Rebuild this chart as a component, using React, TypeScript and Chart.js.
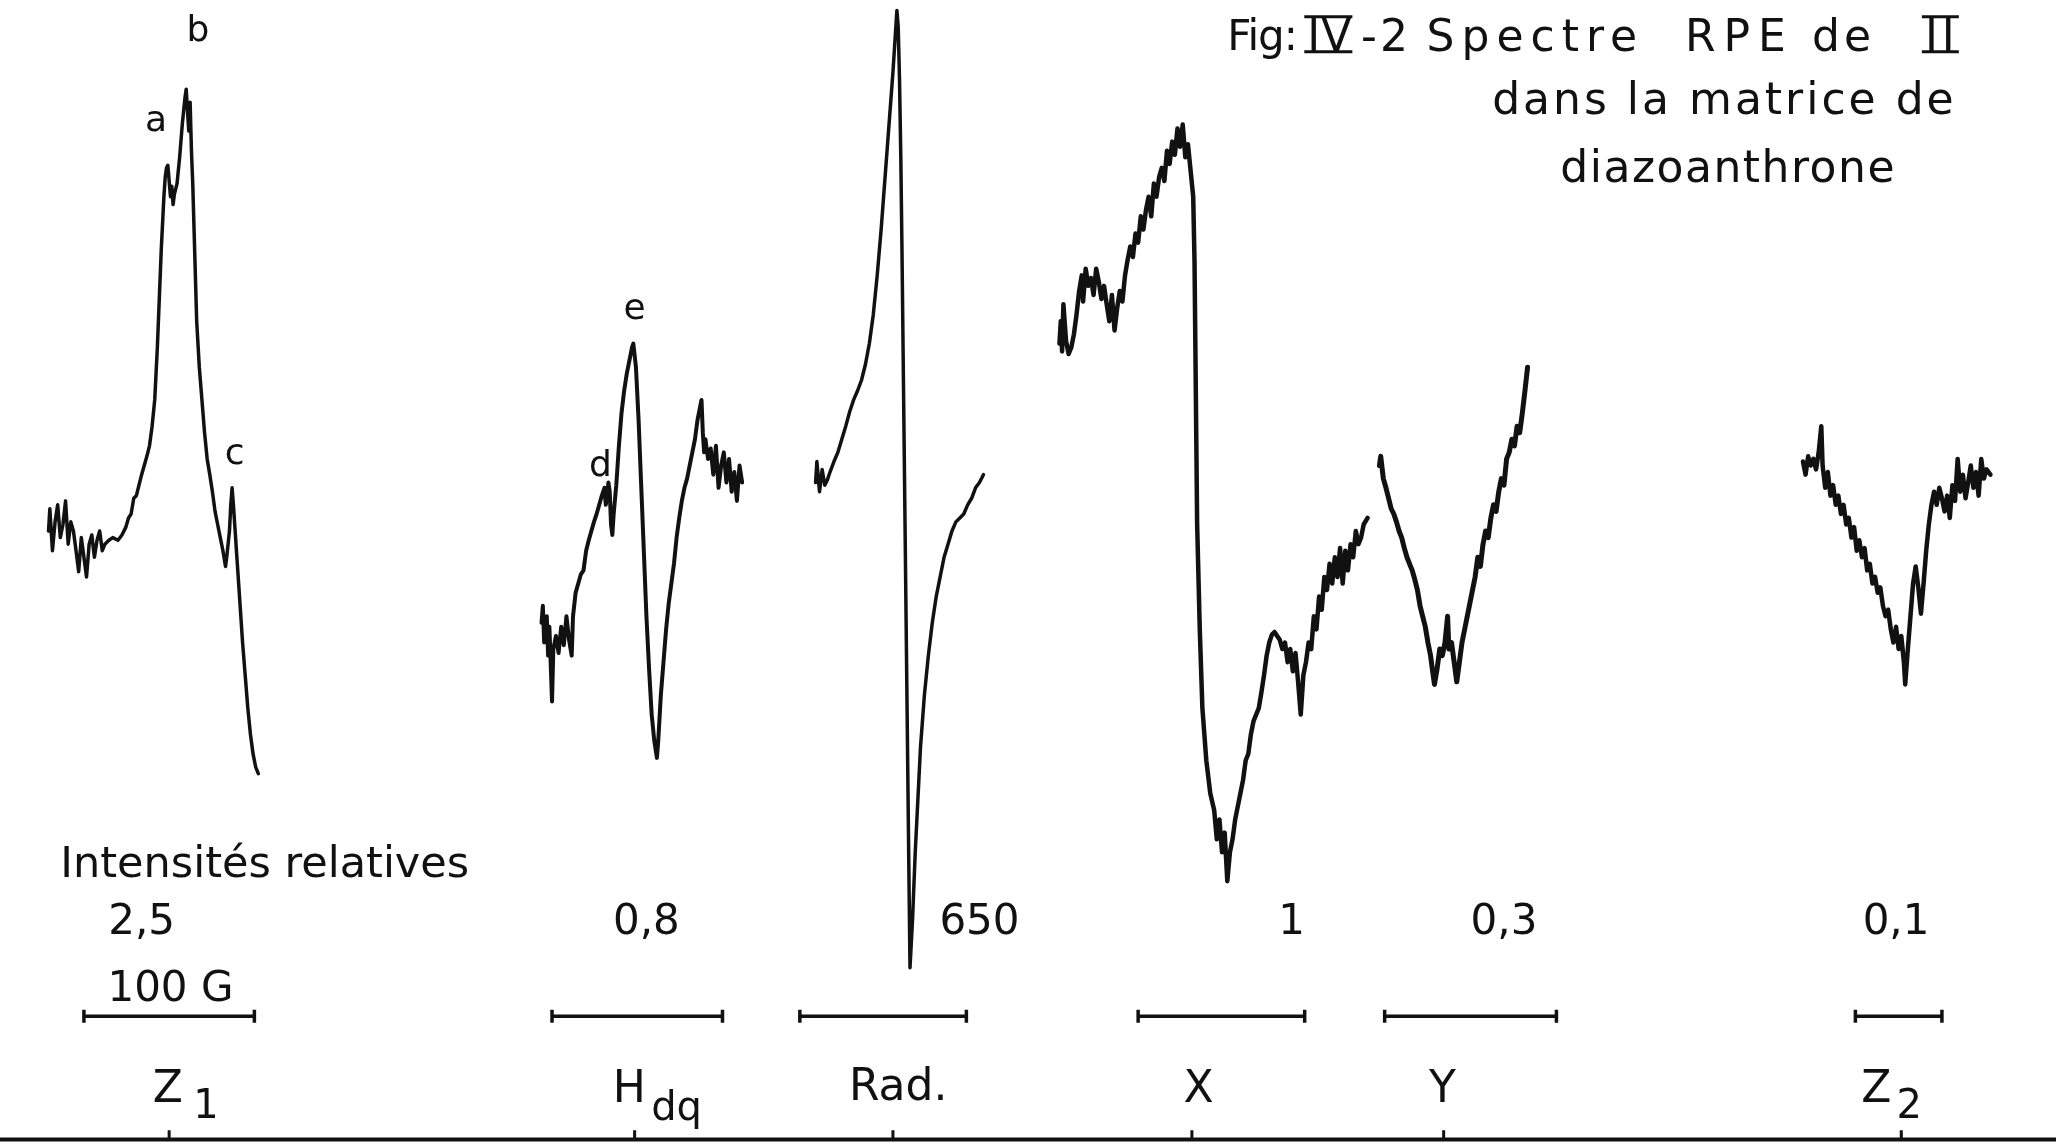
import React, { useEffect, useRef } from 'react';
import { Chart, registerables } from 'chart.js';

Chart.register(...registerables);

// Field axis: arbitrary recorder units (100 G ≈ 128 units). Signal: arbitrary units (up = positive).
const traceZ1: [number, number][] = [
  [37,469],[38,486],[40,454],[42,476],[44,489],[46,464],[48,474],[50,492],[52,459],[54,476],[56,469],[58,454],[60,438],[62,464],[64,449],[66,434],[68,459],[70,466],[72,449],[74,462],[76,469],[78,454],[80,459],[83,462],[86,464],[90,462],[93,466],[96,472],[98,479],[100,482],[102,494],[104,496],[106,504],[108,512],[110,519],[112,526],[114,534],[116,549],[118,569],[119,589],[120,609],[121,634],[122,659],[123,684],[124,704],[125,724],[126,739],[127,746],[128,748],[129,736],[130,724],[131,732],[132,718],[133,726],[135,734],[137,754],[139,779],[141,799],[142,806],[143,789],[144,774],[145,796],[146,759],[147,734],[148,699],[149,664],[150,629],[152,594],[154,569],[156,544],[158,524],[160,512],[162,499],[164,484],[166,474],[168,464],[170,454],[172,442],[173,450],[175,469],[176,489],[177,502],[178,489],[179,474],[181,444],[183,414],[185,384],[187,359],[189,334],[191,314],[193,299],[195,289],[197,284],
];
const traceHdq: [number, number][] = [
  [413,399],[414,412],[415,384],[417,404],[418,374],[419,396],[421,339],[422,379],[424,389],[426,376],[428,396],[430,382],[432,404],[434,386],[436,374],[437,404],[439,422],[441,429],[443,436],[445,439],[447,454],[449,462],[451,469],[453,476],[455,482],[457,489],[459,496],[461,502],[462,489],[463,496],[464,506],[465,499],[466,474],[467,466],[468,482],[470,504],[472,534],[474,559],[476,576],[478,589],[480,599],[482,609],[483,612],[485,594],[487,554],[489,504],[491,454],[493,404],[495,364],[497,329],[499,309],[501,296],[502,309],[504,344],[506,369],[508,394],[510,414],[512,429],[514,444],[516,464],[518,479],[520,492],[522,502],[524,509],[526,519],[528,529],[530,539],[532,554],[534,564],[535,569],[536,544],[537,529],[538,539],[540,524],[542,532],[544,512],[546,534],[548,502],[550,519],[552,529],[554,506],[556,524],[558,499],[560,514],[562,492],[564,519],[566,506],
];
const traceRad: [number, number][] = [
  [622,506],[623,522],[625,499],[627,516],[629,504],[631,508],[633,514],[636,522],[639,529],[642,539],[645,549],[648,560],[651,569],[654,576],[657,584],[660,596],[663,612],[666,634],[669,664],[672,699],[675,739],[678,779],[681,819],[684,866],[685,854],[686,814],[687,754],[688,674],[689,584],[690,494],[691,404],[692,314],[693,224],[694,136],[696,174],[698,224],[700,264],[702,304],[705,344],[708,374],[711,399],[714,419],[717,434],[720,449],[723,459],[726,469],[729,476],[732,479],[735,482],[738,489],[741,494],[744,502],[747,506],[750,512],
];
const traceX: [number, number][] = [
  [808,612],[809,629],[810,606],[811,642],[813,614],[815,604],[817,609],[819,619],[821,634],[823,652],[825,664],[826,644],[828,669],[830,656],[832,662],[834,649],[836,669],[838,659],[840,646],[842,656],[844,642],[846,629],[848,649],[850,622],[852,639],[854,652],[856,644],[858,664],[860,676],[862,686],[864,678],[866,696],[868,689],[870,709],[872,699],[874,714],[876,724],[878,709],[880,734],[882,724],[884,739],[886,746],[888,736],[890,759],[892,749],[894,766],[896,756],[898,776],[900,762],[902,779],[904,754],[906,764],[908,744],[910,724],[911,674],[912,574],[913,474],[915,394],[917,334],[920,294],[923,269],[926,256],[928,234],[930,249],[932,224],[934,239],[936,202],[938,224],[940,234],[942,249],[944,259],[946,269],[948,279],[950,294],[952,299],[954,314],[956,324],[958,329],[960,334],[962,346],[964,359],[966,374],[968,384],[970,390],[972,392],[974,389],[976,386],[978,379],[980,384],[982,369],[984,379],[986,362],[988,376],[990,354],[992,329],[994,359],[996,369],[998,384],[1000,379],[1002,404],[1004,394],[1006,419],[1008,409],[1010,434],[1012,424],[1014,444],[1016,429],[1018,449],[1020,434],[1022,456],[1024,429],[1026,454],[1028,439],[1030,459],[1032,449],[1034,469],[1036,459],[1038,464],[1040,474],[1043,479],
];
const traceY: [number, number][] = [
  [1052,519],[1053,526],[1055,509],[1057,502],[1059,494],[1061,486],[1063,482],[1065,476],[1067,469],[1069,464],[1071,456],[1073,449],[1075,444],[1077,439],[1079,432],[1081,424],[1083,412],[1085,404],[1087,396],[1089,384],[1091,374],[1093,359],[1094,352],[1096,364],[1098,379],[1100,374],[1102,384],[1104,404],[1105,379],[1107,384],[1109,369],[1111,354],[1113,369],[1115,384],[1117,394],[1119,404],[1121,414],[1123,424],[1125,434],[1127,449],[1129,442],[1131,459],[1133,469],[1135,464],[1137,479],[1139,489],[1141,484],[1143,499],[1145,509],[1147,504],[1149,524],[1151,529],[1153,539],[1155,534],[1157,549],[1159,544],[1161,559],[1163,576],[1165,594],
];
const traceZ2: [number, number][] = [
  [1375,522],[1377,512],[1379,526],[1381,519],[1383,524],[1385,516],[1387,529],[1389,549],[1390,519],[1392,502],[1394,514],[1396,496],[1398,504],[1400,489],[1402,496],[1404,482],[1406,489],[1408,474],[1410,479],[1412,464],[1414,472],[1416,454],[1418,462],[1420,449],[1422,456],[1424,439],[1426,444],[1428,429],[1430,434],[1432,422],[1434,426],[1436,412],[1438,404],[1440,409],[1442,394],[1444,384],[1446,396],[1448,379],[1450,389],[1452,369],[1453,352],[1455,379],[1457,404],[1459,429],[1461,442],[1463,426],[1465,406],[1467,429],[1469,454],[1471,474],[1473,489],[1475,499],[1477,489],[1479,502],[1481,494],[1483,484],[1485,496],[1487,479],[1489,504],[1491,492],[1493,524],[1495,499],[1497,512],[1499,494],[1501,506],[1503,519],[1505,502],[1507,514],[1509,496],[1511,524],[1513,509],[1515,516],[1518,512],
];

// Scale bars (field units, start / end), relative intensities, axis ticks
const scaleBars: [number, number][] = [[64,194],[421,551],[610,737],[868,995],[1056,1187],[1415,1481]];
const intensityLabels = ['2,5', '0,8', '650', '1', '0,3', '0,1'];
const intensityFields = [108, 493, 747, 985, 1147, 1446];
const axisTickFields = [129, 484, 681, 909, 1101, 1450];
const peakLabels = ['a', 'b', 'c', 'd', 'e'];
const peakFields = [119, 151, 179, 458, 484];
const peakSignals = [781, 850, 527, 518, 638];

const INK = '#111111';
const FONT = '"DejaVu Sans", "Liberation Sans", sans-serif';
const BAR_Y = 99;
const AXIS_Y = 5;

type TextItem = {
  text: string; x: number; y: number; size: number;
  align?: CanvasTextAlign; spacing?: number; roman?: boolean;
};

const texts: TextItem[] = [
  ...peakLabels.map((t, i) => ({ text: t, x: peakFields[i], y: peakSignals[i], size: 36 })),
  { text: 'Fig:', x: 936, y: 844, size: 42, align: 'left', spacing: -1 },
  { text: 'IV', x: 997, y: 844, size: 44, align: 'left', roman: true, spacing: 1 },
  { text: '-2', x: 1038, y: 844, size: 44, align: 'left', spacing: 3 },
  { text: 'Spectre', x: 1088, y: 844, size: 44, align: 'left', spacing: 7 },
  { text: 'RPE', x: 1285, y: 844, size: 44, align: 'left', spacing: 8 },
  { text: 'de', x: 1382, y: 844, size: 44, align: 'left', spacing: 4 },
  { text: 'II', x: 1468, y: 844, size: 44, align: 'left', roman: true, spacing: 4 },
  { text: 'dans la matrice de', x: 1138, y: 796, size: 44, align: 'left', spacing: 3 },
  { text: 'diazoanthrone', x: 1190, y: 744, size: 44, align: 'left', spacing: 1.5 },
  { text: 'Intensités relatives', x: 46, y: 214, size: 43, align: 'left' },
  ...intensityLabels.map((t, i) => ({ text: t, x: intensityFields[i], y: 170, size: 42 })),
  { text: '100 G', x: 130, y: 119, size: 42 },
  { text: 'Z', x: 128, y: 42, size: 44 },
  { text: '1', x: 157, y: 29, size: 40 },
  { text: 'H', x: 480, y: 42, size: 44 },
  { text: 'dq', x: 516, y: 28, size: 40 },
  { text: 'Rad.', x: 685, y: 44, size: 44 },
  { text: 'X', x: 914, y: 42, size: 44 },
  { text: 'Y', x: 1100, y: 42, size: 44 },
  { text: 'Z', x: 1431, y: 42, size: 44 },
  { text: '2', x: 1456, y: 29, size: 40 },
];

const textPlugin = {
  id: 'figText',
  afterDatasetsDraw(chart: any) {
    const { ctx } = chart;
    const xs = chart.scales.x;
    const ys = chart.scales.y;
    ctx.save();
    ctx.fillStyle = INK;
    ctx.strokeStyle = INK;
    ctx.textBaseline = 'middle';
    for (const t of texts) {
      ctx.font = `${t.size}px ${FONT}`;
      ctx.textAlign = t.align ?? 'center';
      try { (ctx as any).letterSpacing = `${t.spacing ?? 0}px`; } catch (e) { /* ignore */ }
      const px = xs.getPixelForValue(t.x);
      const py = ys.getPixelForValue(t.y);
      ctx.fillText(t.text, px, py);
      if (t.roman) {
        const m = ctx.measureText(t.text);
        const left = px - 3;
        const right = px + m.width;
        const top = py - m.actualBoundingBoxAscent - 1;
        const bottom = py + m.actualBoundingBoxDescent + 1;
        ctx.lineWidth = 3;
        ctx.beginPath();
        ctx.moveTo(left, top); ctx.lineTo(right, top);
        ctx.moveTo(left, bottom); ctx.lineTo(right, bottom);
        ctx.stroke();
      }
    }
    ctx.restore();
  },
};

const toPts = (arr: [number, number][]) => arr.map(([x, y]) => ({ x, y }));

const traceDataset = (arr: [number, number][], width: number) => ({
  type: 'line' as const,
  data: toPts(arr),
  borderColor: INK,
  borderWidth: width,
  pointRadius: 0,
  fill: false,
  tension: 0,
  borderJoinStyle: 'round' as const,
  borderCapStyle: 'round' as const,
});

export default function App() {
  const ref = useRef<HTMLCanvasElement>(null);

  useEffect(() => {
    if (!ref.current) return;

    const barPts: any[] = [];
    const capPts: any[] = [];
    scaleBars.forEach(([a, b]) => {
      barPts.push({ x: a, y: BAR_Y }, { x: b, y: BAR_Y }, { x: b + 1, y: null });
      capPts.push({ x: a, y: BAR_Y - 5 }, { x: a, y: BAR_Y + 5 }, { x: a + 0.5, y: null });
      capPts.push({ x: b, y: BAR_Y - 5 }, { x: b, y: BAR_Y + 5 }, { x: b + 0.5, y: null });
    });
    const tickPts: any[] = [];
    axisTickFields.forEach((t) => {
      tickPts.push({ x: t, y: AXIS_Y }, { x: t, y: AXIS_Y + 7 }, { x: t + 0.5, y: null });
    });

    const chart = new Chart(ref.current, {
      type: 'line',
      data: {
        datasets: [
          traceDataset(traceZ1, 3.5),
          traceDataset(traceHdq, 4),
          traceDataset(traceRad, 3.5),
          traceDataset(traceX, 4.5),
          traceDataset(traceY, 5),
          traceDataset(traceZ2, 4.5),
          { data: barPts, borderColor: INK, borderWidth: 3.5, pointRadius: 0, spanGaps: false },
          { data: capPts, borderColor: INK, borderWidth: 3.5, pointRadius: 0, spanGaps: false },
          { data: [{ x: 0, y: AXIS_Y }, { x: 1568, y: AXIS_Y }], borderColor: INK, borderWidth: 4, pointRadius: 0 },
          { data: tickPts, borderColor: INK, borderWidth: 3, pointRadius: 0, spanGaps: false },
        ] as any,
      },
      options: {
        animation: false,
        responsive: false,
        devicePixelRatio: 1,
        events: [],
        layout: { padding: 0 },
        plugins: { legend: { display: false }, tooltip: { enabled: false } },
        scales: {
          x: { type: 'linear', display: false, min: 0, max: 1568 },
          y: { type: 'linear', display: false, min: 0, max: 874 },
        },
      },
      plugins: [textPlugin],
    });
    return () => chart.destroy();
  }, []);

  return (
    <div style={{ position: 'absolute', left: 0, top: 0, width: 2056, height: 1146, background: '#ffffff' }}>
      <canvas ref={ref} width={2056} height={1146} style={{ display: 'block', width: 2056, height: 1146 }} />
    </div>
  );
}
